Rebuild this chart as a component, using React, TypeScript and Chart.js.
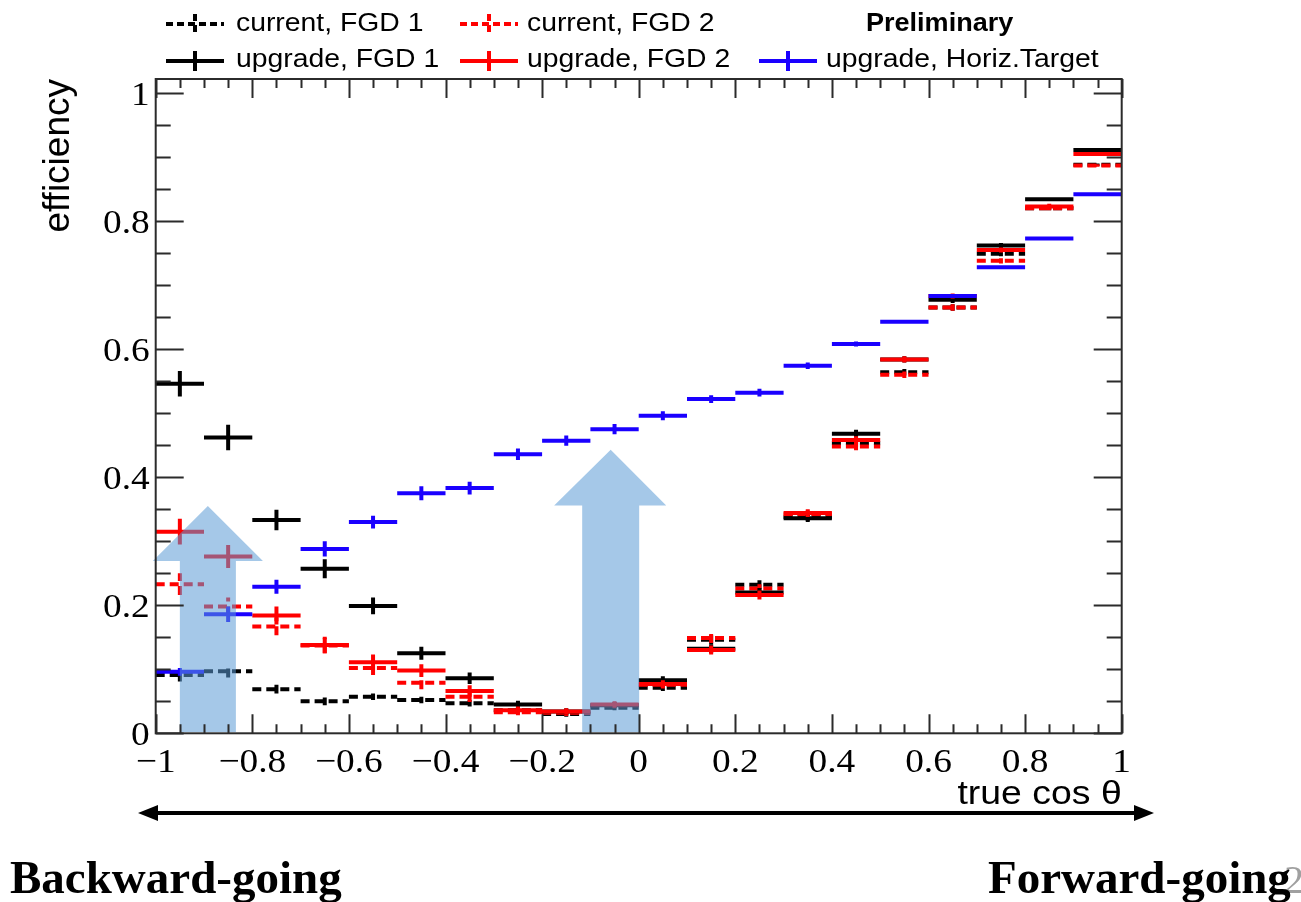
import { useEffect, useRef } from "react";
import { Chart, registerables } from "chart.js";

Chart.register(...registerables);

// 20 bins of true cos θ, width 0.1
const binCentres = [-0.95, -0.85, -0.75, -0.65, -0.55, -0.45, -0.35, -0.25, -0.15, -0.05, 0.05, 0.15, 0.25, 0.35, 0.45, 0.55, 0.65, 0.75, 0.85, 0.95];
const binHalfWidth = 0.05;

const currentFgd1 = [0.091, 0.097, 0.069, 0.050, 0.057, 0.052, 0.047, 0.036, 0.030, 0.040, 0.071, 0.146, 0.232, 0.338, 0.453, 0.564, 0.665, 0.749, 0.820, 0.888];
const currentFgd1Err = [0.010, 0.010, 0.007, 0.006, 0.005, 0.005, 0.005, 0.004, 0.004, 0.004, 0.005, 0.007, 0.007, 0.006, 0.006, 0.005, 0.005, 0.004, 0.003, 0.002];

const currentFgd2 = [0.233, 0.198, 0.167, 0.137, 0.102, 0.079, 0.057, 0.033, 0.032, 0.044, 0.076, 0.149, 0.226, 0.342, 0.448, 0.560, 0.665, 0.738, 0.820, 0.887];
const currentFgd2Err = [0.017, 0.014, 0.014, 0.012, 0.011, 0.010, 0.008, 0.005, 0.005, 0.005, 0.006, 0.008, 0.007, 0.006, 0.006, 0.005, 0.005, 0.004, 0.003, 0.002];

const upgradeFgd1 = [0.546, 0.462, 0.333, 0.257, 0.199, 0.125, 0.086, 0.045, 0.034, 0.044, 0.083, 0.132, 0.220, 0.336, 0.468, 0.584, 0.677, 0.762, 0.834, 0.911];
const upgradeFgd1Err = [0.020, 0.020, 0.016, 0.015, 0.013, 0.010, 0.009, 0.006, 0.005, 0.005, 0.006, 0.007, 0.007, 0.006, 0.006, 0.005, 0.005, 0.004, 0.003, 0.002];

const upgradeFgd2 = [0.315, 0.276, 0.184, 0.138, 0.111, 0.098, 0.066, 0.036, 0.034, 0.045, 0.077, 0.130, 0.216, 0.344, 0.458, 0.584, 0.683, 0.755, 0.823, 0.905];
const upgradeFgd2Err = [0.020, 0.018, 0.014, 0.013, 0.012, 0.010, 0.009, 0.006, 0.005, 0.005, 0.006, 0.007, 0.007, 0.006, 0.006, 0.005, 0.004, 0.004, 0.004, 0.002];

const upgradeHorizTarget = [0.096, 0.186, 0.229, 0.288, 0.330, 0.375, 0.383, 0.436, 0.457, 0.475, 0.496, 0.522, 0.532, 0.574, 0.608, 0.643, 0.683, 0.728, 0.773, 0.842];
const upgradeHorizTargetErr = [0.006, 0.012, 0.011, 0.012, 0.010, 0.011, 0.010, 0.009, 0.008, 0.008, 0.007, 0.006, 0.006, 0.005, 0.004, 0.003, 0.003, 0.003, 0.002, 0.001];

// Axis labelling
const xTickValues = [-1, -0.8, -0.6, -0.4, -0.2, 0, 0.2, 0.4, 0.6, 0.8, 1];
const yTickValues = [0, 0.2, 0.4, 0.6, 0.8, 1];
const xMin = -1;
const xMax = 1;
const yMin = 0;
const yMax = 1.022;
const xTitle = "true cos θ";
const yTitle = "efficiency";

// Translucent "improvement" arrows, in axis units
const improvementArrows = [
  { shaftLeft: -0.95, shaftRight: -0.834, headLeft: -1.006, headRight: -0.778, base: 0.002, headBase: 0.269, tip: 0.355 },
  { shaftLeft: -0.117, shaftRight: 0.001, headLeft: -0.175, headRight: 0.057, base: 0.002, headBase: 0.356, tip: 0.443 },
];

const seriesList = [
  { label: "current, FGD 1", values: currentFgd1, errors: currentFgd1Err, color: "#000000", dashed: true, order: 5, col: 0, row: 0 },
  { label: "current, FGD 2", values: currentFgd2, errors: currentFgd2Err, color: "#ff0000", dashed: true, order: 4, col: 1, row: 0 },
  { label: "upgrade, FGD 1", values: upgradeFgd1, errors: upgradeFgd1Err, color: "#000000", dashed: false, order: 3, col: 0, row: 1 },
  { label: "upgrade, FGD 2", values: upgradeFgd2, errors: upgradeFgd2Err, color: "#ff0000", dashed: false, order: 2, col: 1, row: 1 },
  { label: "upgrade, Horiz.Target", values: upgradeHorizTarget, errors: upgradeHorizTargetErr, color: "#1a00ff", dashed: false, order: 1, col: 2, row: 1 },
];

const DASH = [9, 5];
const FRAME = "#2b2b2b";

// Each bin becomes a horizontal bar across the bin plus a vertical error bar
function histogramPoints(values: number[], errors: number[]) {
  const pts: { x: number; y: number | null }[] = [];
  values.forEach((v, i) => {
    const c = binCentres[i];
    pts.push({ x: c - binHalfWidth, y: v }, { x: c + binHalfWidth, y: v }, { x: c, y: null });
    pts.push({ x: c, y: v - errors[i] }, { x: c, y: v + errors[i] }, { x: c, y: null });
  });
  return pts;
}

function formatTick(v: number) {
  const s = (Math.round(v * 10) / 10).toString();
  return s.replace("-", "\u2212");
}

function stretchedText(
  ctx: CanvasRenderingContext2D,
  text: string,
  x: number,
  y: number,
  font: string,
  align: "left" | "right" | "center",
  sx: number,
  color = "#000"
) {
  ctx.save();
  ctx.font = font;
  ctx.fillStyle = color;
  ctx.textBaseline = "alphabetic";
  ctx.textAlign = "left";
  const w = ctx.measureText(text).width * sx;
  const x0 = align === "right" ? x - w : align === "center" ? x - w / 2 : x;
  ctx.translate(x0, y);
  ctx.scale(sx, 1);
  ctx.fillText(text, 0, 0);
  ctx.restore();
}

const decorations = {
  id: "decorations",
  afterDatasetsDraw(chart: any) {
    const { ctx, chartArea: a } = chart;
    const xs = chart.scales.x;
    const ys = chart.scales.y;

    // improvement arrows over the data
    ctx.save();
    ctx.fillStyle = "rgba(91,155,213,0.55)";
    for (const ar of improvementArrows) {
      const sl = xs.getPixelForValue(ar.shaftLeft);
      const sr = xs.getPixelForValue(ar.shaftRight);
      const hl = xs.getPixelForValue(ar.headLeft);
      const hr = xs.getPixelForValue(ar.headRight);
      const tx = (sl + sr) / 2;
      const yb = ys.getPixelForValue(ar.base);
      const yh = ys.getPixelForValue(ar.headBase);
      const yt = ys.getPixelForValue(ar.tip);
      ctx.beginPath();
      ctx.moveTo(sl, yb);
      ctx.lineTo(sl, yh);
      ctx.lineTo(hl, yh);
      ctx.lineTo(tx, yt);
      ctx.lineTo(hr, yh);
      ctx.lineTo(sr, yh);
      ctx.lineTo(sr, yb);
      ctx.closePath();
      ctx.fill();
    }
    ctx.restore();

    // frame and inward ticks
    ctx.save();
    ctx.strokeStyle = FRAME;
    ctx.lineWidth = 2;
    ctx.strokeRect(a.left, a.top, a.right - a.left, a.bottom - a.top);
    ctx.beginPath();
    for (let k = 0; k <= 40; k++) {
      const v = xMin + k * 0.05;
      const px = Math.round(xs.getPixelForValue(v)) + 0.5;
      const len = k % 4 === 0 ? 19 : 9;
      ctx.moveTo(px, a.bottom);
      ctx.lineTo(px, a.bottom - len);
      ctx.moveTo(px, a.top);
      ctx.lineTo(px, a.top + len);
    }
    for (let k = 0; k * 0.05 <= yMax; k++) {
      const v = yMin + k * 0.05;
      const py = Math.round(ys.getPixelForValue(v)) + 0.5;
      const len = k % 4 === 0 ? 28 : 15;
      ctx.moveTo(a.left, py);
      ctx.lineTo(a.left + len, py);
      ctx.moveTo(a.right, py);
      ctx.lineTo(a.right - len, py);
    }
    ctx.stroke();
    ctx.restore();

    // tick labels
    const tickFont = "34px 'Liberation Serif', 'DejaVu Serif', serif";
    xs.ticks.forEach((t: any) => {
      stretchedText(ctx, formatTick(t.value), xs.getPixelForValue(t.value), 772, tickFont, "center", 1.1);
    });
    ys.ticks.forEach((t: any) => {
      stretchedText(ctx, formatTick(t.value), a.left - 6, ys.getPixelForValue(t.value) + 11.5, tickFont, "right", 1.1);
    });

    // axis titles
    stretchedText(ctx, xTitle, a.right, 804, "34px 'Liberation Sans', Arial, sans-serif", "right", 1.1);
    ctx.save();
    ctx.font = "37px 'Liberation Sans', Arial, sans-serif";
    ctx.fillStyle = "#000";
    ctx.textAlign = "right";
    ctx.textBaseline = "alphabetic";
    ctx.translate(69, a.top);
    ctx.rotate(-Math.PI / 2);
    ctx.fillText(yTitle, 0, 0);
    ctx.restore();

    // legend
    const symLeft = [166, 460, 759];
    const textLeft = [236, 527, 826];
    const lineY = [24, 61];
    const textY = [31, 67];
    const legendFont = "26px 'Liberation Sans', Arial, sans-serif";
    for (const s of seriesList) {
      const x0 = symLeft[s.col];
      const yl = lineY[s.row];
      ctx.save();
      ctx.strokeStyle = s.color;
      ctx.lineWidth = 4;
      ctx.setLineDash(s.dashed ? [7, 4] : []);
      ctx.beginPath();
      ctx.moveTo(x0, yl);
      ctx.lineTo(x0 + 58, yl);
      ctx.moveTo(x0 + 29, yl - 10);
      ctx.lineTo(x0 + 29, yl + 10);
      ctx.stroke();
      ctx.restore();
      stretchedText(ctx, s.label, textLeft[s.col], textY[s.row], legendFont, "left", 1.09);
    }
    stretchedText(ctx, "Preliminary", 866, 31, "bold 26px 'Liberation Sans', Arial, sans-serif", "left", 1.04);

    // direction arrow below the axis
    ctx.save();
    ctx.strokeStyle = "#000";
    ctx.fillStyle = "#000";
    ctx.lineWidth = 4;
    const ay = 813;
    const axL = 138;
    const axR = 1154;
    ctx.beginPath();
    ctx.moveTo(axL + 14, ay);
    ctx.lineTo(axR - 14, ay);
    ctx.stroke();
    ctx.beginPath();
    ctx.moveTo(axL, ay);
    ctx.lineTo(axL + 20, ay - 8);
    ctx.lineTo(axL + 20, ay + 8);
    ctx.closePath();
    ctx.fill();
    ctx.beginPath();
    ctx.moveTo(axR, ay);
    ctx.lineTo(axR - 20, ay - 8);
    ctx.lineTo(axR - 20, ay + 8);
    ctx.closePath();
    ctx.fill();
    ctx.restore();

    const dirFont = "bold 47px 'Liberation Serif', 'Times New Roman', serif";
    stretchedText(ctx, "2", 1284, 893, "40px 'Liberation Serif', serif", "left", 1, "#a0a0a0");
    stretchedText(ctx, "Backward-going", 10, 893, dirFont, "left", 1);
    stretchedText(ctx, "Forward-going", 988, 893, dirFont, "left", 1);
  },
};

export default function App() {
  const canvasRef = useRef<HTMLCanvasElement | null>(null);

  useEffect(() => {
    const canvas = canvasRef.current;
    if (!canvas) return;
    const chart = new Chart(canvas, {
      type: "scatter",
      data: {
        datasets: seriesList.map((s) => ({
          label: s.label,
          data: histogramPoints(s.values, s.errors),
          showLine: true,
          spanGaps: false,
          borderColor: s.color,
          backgroundColor: s.color,
          borderWidth: 4,
          borderDash: s.dashed ? DASH : [],
          borderCapStyle: "butt",
          pointRadius: 0,
          pointHoverRadius: 0,
          order: s.order,
        })),
      },
      options: {
        animation: false,
        responsive: false,
        maintainAspectRatio: false,
        devicePixelRatio: 1,
        events: [],
        layout: { padding: { top: 79, right: 179.3, bottom: 0, left: 0 } },
        plugins: { legend: { display: false }, tooltip: { enabled: false } },
        scales: {
          x: {
            type: "linear",
            min: xMin,
            max: xMax,
            grid: { display: false, drawTicks: false },
            border: { display: false },
            ticks: { display: false },
            afterBuildTicks: (s: any) => {
              s.ticks = xTickValues.map((value) => ({ value }));
            },
            afterFit: (s: any) => {
              s.height = 168.7;
            },
          },
          y: {
            type: "linear",
            min: yMin,
            max: yMax,
            grid: { display: false, drawTicks: false },
            border: { display: false },
            ticks: { display: false },
            afterBuildTicks: (s: any) => {
              s.ticks = yTickValues.map((value) => ({ value }));
            },
            afterFit: (s: any) => {
              s.width = 155.7;
            },
          },
        },
      } as any,
      plugins: [decorations],
    });
    return () => chart.destroy();
  }, []);

  return (
    <div style={{ position: "fixed", left: 0, top: 0, width: 1301, height: 902, background: "#fff" }}>
      <canvas ref={canvasRef} width={1301} height={902} style={{ display: "block" }} />
    </div>
  );
}
